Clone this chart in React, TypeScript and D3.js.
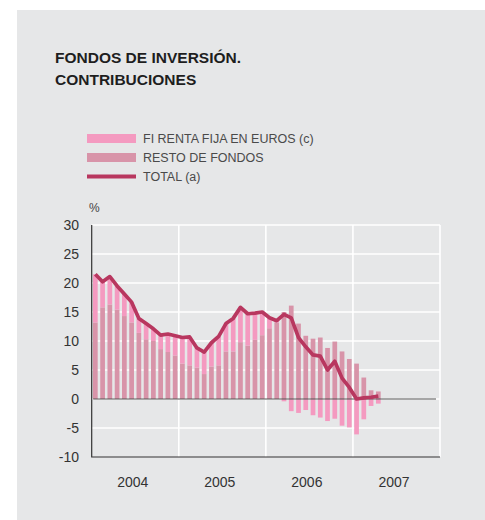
import * as d3 from 'd3';
import { useEffect, useRef } from 'react';

// monthly data, Jan 2004 - Apr 2007
const resto = [13.2, 15.8, 16.3, 15.4, 14.3, 13.2, 11.4, 10.3, 10.0, 8.6, 8.1, 7.5, 6.1, 5.8, 5.4, 4.3, 5.6, 5.8, 8.2, 8.2,
    9.8, 9.2, 10.2, 11.0, 12.2, 13.2, 15.0, 16.1, 13.0, 10.9, 10.4, 10.6, 8.8, 9.9, 8.2, 6.9, 6.1, 3.7, 1.5, 1.3];
const rentaFija = [8.3, 4.4, 4.8, 4.1, 3.8, 3.5, 2.5, 2.7, 2.1, 2.4, 3.1, 3.4, 4.5, 4.9, 3.4, 3.8, 4.1, 5.0, 4.8, 5.7,
    6.0, 5.5, 4.6, 4.0, 1.8, 0.3, -0.4, -2.1, -2.4, -1.9, -2.8, -3.2, -3.8, -3.4, -4.6, -4.9, -6.1, -3.5, -1.2, -0.8];
const total = [21.5, 20.2, 21.1, 19.5, 18.1, 16.7, 13.9, 13.0, 12.1, 11.0, 11.2, 10.9, 10.6, 10.7, 8.8, 8.1, 9.7, 10.8, 13.0, 13.9,
    15.8, 14.7, 14.8, 15.0, 14.0, 13.5, 14.6, 14.0, 10.6, 9.0, 7.6, 7.4, 5.0, 6.5, 3.6, 2.0, 0.0, 0.2, 0.3, 0.5];

const years = ['2004', '2005', '2006', '2007'];
const yTicks = [30, 25, 20, 15, 10, 5, 0, -5, -10];
const legendItems = ['FI RENTA FIJA EN EUROS (c)', 'RESTO DE FONDOS', 'TOTAL (a)'];
const titleLines = ['FONDOS DE INVERSIÓN.', 'CONTRIBUCIONES'];

export default function App() {
    const ref = useRef<HTMLDivElement>(null);

    useEffect(() => {
        const width = 485;
        const height = 520;
        const margin = { top: 225, right: 45, bottom: 63, left: 91.7 };
        const font = '"Liberation Sans", Arial, Helvetica, sans-serif';
        const colors = { rf: '#f49ac0', resto: '#d894a9', total: '#b8375f', bg: '#e6e7e8' };

        const svg = d3.create('svg')
            .attr('width', width)
            .attr('height', height)
            .style('display', 'block')
            .style('position', 'absolute')
            .style('left', 0)
            .style('top', 0);

        svg.append('rect')
            .attr('x', 17).attr('y', 10)
            .attr('width', width - 17).attr('height', height - 10)
            .attr('fill', colors.bg);

        // title
        svg.append('g')
            .selectAll('text')
            .data(titleLines)
            .join('text')
            .attr('x', 55)
            .attr('y', (d, i) => 63 + i * 22)
            .attr('font-family', font)
            .attr('font-size', 15.5)
            .attr('font-weight', 700)
            .attr('fill', '#1e1e1e')
            .text(d => d);

        // legend
        const legend = svg.append('g');
        const legendY = [138.5, 157.5, 176.5];
        legendItems.forEach((label, i) => {
            if (i < 2) {
                legend.append('rect')
                    .attr('x', 87).attr('y', legendY[i] - 4.5)
                    .attr('width', 49).attr('height', 9)
                    .attr('fill', i === 0 ? colors.rf : colors.resto);
            } else {
                legend.append('line')
                    .attr('x1', 87).attr('x2', 136)
                    .attr('y1', legendY[i]).attr('y2', legendY[i])
                    .attr('stroke', colors.total)
                    .attr('stroke-width', 4);
            }
            legend.append('text')
                .attr('x', 143)
                .attr('y', legendY[i] + 4.5)
                .attr('font-family', font)
                .attr('font-size', 12.5)
                .attr('fill', '#4a4a4a')
                .text(label);
        });

        const x0 = margin.left;
        const x1 = width - margin.right;
        const y0 = margin.top;
        const y1 = height - margin.bottom;

        const yScale = d3.scaleLinear().domain([-10, 30]).range([y1, y0]);

        const months = d3.range(years.length * 12);
        const xScale = d3.scaleBand<number>()
            .domain(months)
            .range([x0, x1])
            .paddingInner(0.35)
            .paddingOuter(0.175);

        const yearScale = d3.scaleBand<string>().domain(years).range([x0, x1]);

        // grid
        const grid = svg.append('g').attr('stroke', '#fff').attr('stroke-width', 1.6);
        grid.selectAll('line.h')
            .data(yTicks.filter(d => d !== -10))
            .join('line')
            .attr('class', 'h')
            .attr('x1', x0).attr('x2', x1)
            .attr('y1', d => yScale(d)).attr('y2', d => yScale(d));
        grid.selectAll('line.v')
            .data(years.slice(1).concat(['end']))
            .join('line')
            .attr('class', 'v')
            .attr('x1', (d, i) => x0 + yearScale.step() * (i + 1))
            .attr('x2', (d, i) => x0 + yearScale.step() * (i + 1))
            .attr('y1', y0).attr('y2', y1);

        // bars
        const bw = xScale.bandwidth();
        svg.append('g')
            .selectAll('rect')
            .data(resto)
            .join('rect')
            .attr('x', (d, i) => xScale(i)!)
            .attr('width', bw)
            .attr('y', d => yScale(d))
            .attr('height', d => yScale(0) - yScale(d))
            .attr('fill', colors.resto);

        svg.append('g')
            .selectAll('rect')
            .data(rentaFija)
            .join('rect')
            .attr('x', (d, i) => xScale(i)!)
            .attr('width', bw)
            .attr('y', (d, i) => d >= 0 ? yScale(resto[i] + d) : yScale(0))
            .attr('height', d => Math.abs(yScale(0) - yScale(d)))
            .attr('fill', colors.rf);

        // zero line
        svg.append('line')
            .attr('x1', x0 + 1.5).attr('x2', x1 - 4)
            .attr('y1', yScale(0)).attr('y2', yScale(0))
            .attr('stroke', '#555')
            .attr('stroke-width', 1.2);

        // total line
        const line = d3.line<number>()
            .x((d, i) => xScale(i)! + bw / 2)
            .y(d => yScale(d));
        svg.append('path')
            .datum(total)
            .attr('d', line)
            .attr('fill', 'none')
            .attr('stroke', colors.total)
            .attr('stroke-width', 3.7)
            .attr('stroke-linejoin', 'round');

        // axes lines
        svg.append('path')
            .attr('d', `M${x0},${y0}V${y1}H${x1}`)
            .attr('fill', 'none')
            .attr('stroke', '#333')
            .attr('stroke-width', 1.2);

        // y tick labels
        svg.append('g')
            .selectAll('text')
            .data(yTicks)
            .join('text')
            .attr('x', 79)
            .attr('y', d => yScale(d))
            .attr('dy', '0.36em')
            .attr('text-anchor', 'end')
            .attr('font-family', font)
            .attr('font-size', 14)
            .attr('fill', '#333')
            .text(d => String(d));

        svg.append('text')
            .attr('x', 89).attr('y', 212)
            .attr('font-family', font)
            .attr('font-size', 12)
            .attr('fill', '#444')
            .text('%');

        // year labels
        svg.append('g')
            .selectAll('text')
            .data(years)
            .join('text')
            .attr('x', d => yearScale(d)! + yearScale.bandwidth() / 2 - 2.5)
            .attr('y', 487)
            .attr('text-anchor', 'middle')
            .attr('font-family', font)
            .attr('font-size', 14)
            .attr('fill', '#333')
            .text(d => d);

        ref.current!.innerHTML = '';
        ref.current!.append(svg.node()!);
    }, []);

    return <div ref={ref}></div>;
}
